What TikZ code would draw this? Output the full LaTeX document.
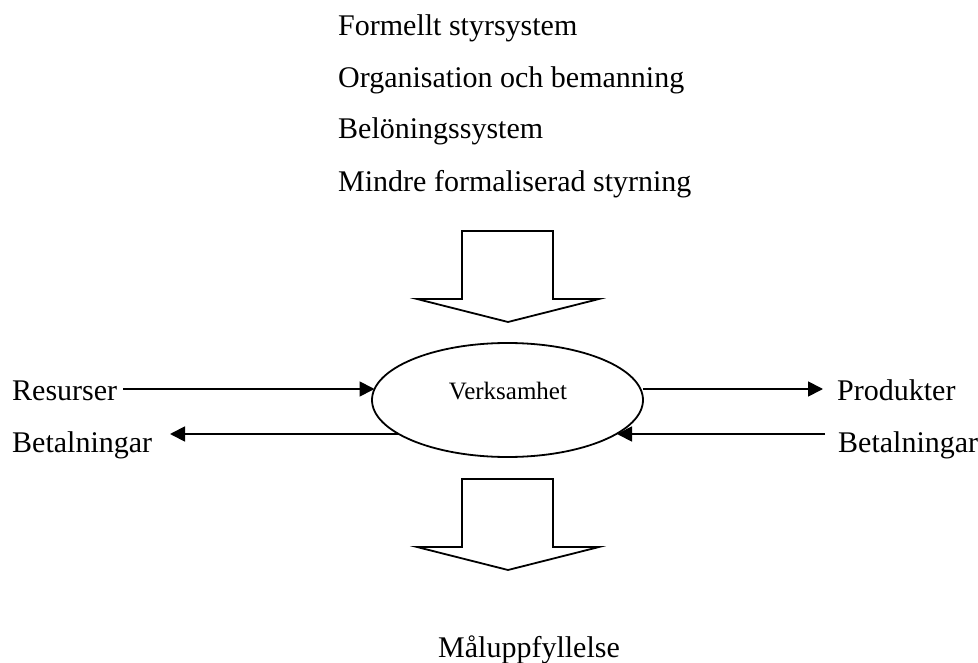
\documentclass[tikz,border=0pt]{standalone}
\usepackage{fontspec}
\setmainfont{Liberation Serif}
\usetikzlibrary{arrows.meta,shapes.geometric}
\tikzset{
  lbl/.style={anchor=base west,inner sep=0pt,font=\fontsize{30}{36}\selectfont},
  conn/.style={line width=1.8pt,-{Triangle[length=15pt,width=15pt]}},
  blockarrow/.style={line width=1.8pt,line join=miter,fill=white},
}
\begin{document}
\begin{tikzpicture}[x=1pt,y=-1pt]
\useasboundingbox (0,0) rectangle (978,663);
% top texts
\node[lbl] (t1) at (338,36) {Formellt styrsystem};
\node[lbl] (t2) at (338,88) {Organisation och bemanning};
\node[lbl] (t3) at (338,139) {Belöningssystem};
\node[lbl] (t4) at (338,192) {Mindre formaliserad styrning};
% top block arrow
\draw[blockarrow] (462,231) -- (553,231) -- (553,299) -- (599,299) -- (508,322) -- (417,299) -- (462,299) -- cycle;
% ellipse
\node[draw,ellipse,line width=1.8pt,minimum width=271pt,minimum height=114pt,inner sep=0pt] (ell) at (507.5,400) {};
\node[anchor=base,inner sep=0pt,font=\fontsize{25}{30}\selectfont] (verk) at (508,399) {Verksamhet};
% side labels
\node[lbl] (res) at (12,400) {Resurser};
\node[lbl] (betl) at (12,452) {Betalningar};
\node[lbl] (prod) at (837,400) {Produkter};
\node[lbl] (betr) at (838,452) {Betalningar};
% connector end points
\coordinate (c1) at (123,389);
\coordinate (c2) at (374.5,389);
\coordinate (c3) at (643,389);
\coordinate (c4) at (823,389);
\coordinate (c5) at (398,434);
\coordinate (c6) at (170,434);
\coordinate (c7) at (825,434);
\coordinate (c8) at (617,434);
\draw[conn] (c1) -- (c2);
\draw[conn] (c3) -- (c4);
\draw[conn] (c5) -- (c6);
\draw[conn] (c7) -- (c8);
% bottom block arrow
\draw[blockarrow] (462,479) -- (553,479) -- (553,547) -- (599,547) -- (508,570) -- (417,547) -- (462,547) -- cycle;
% result
\node[lbl] (mal) at (438,657) {Måluppfyllelse};
\end{tikzpicture}
\end{document}
